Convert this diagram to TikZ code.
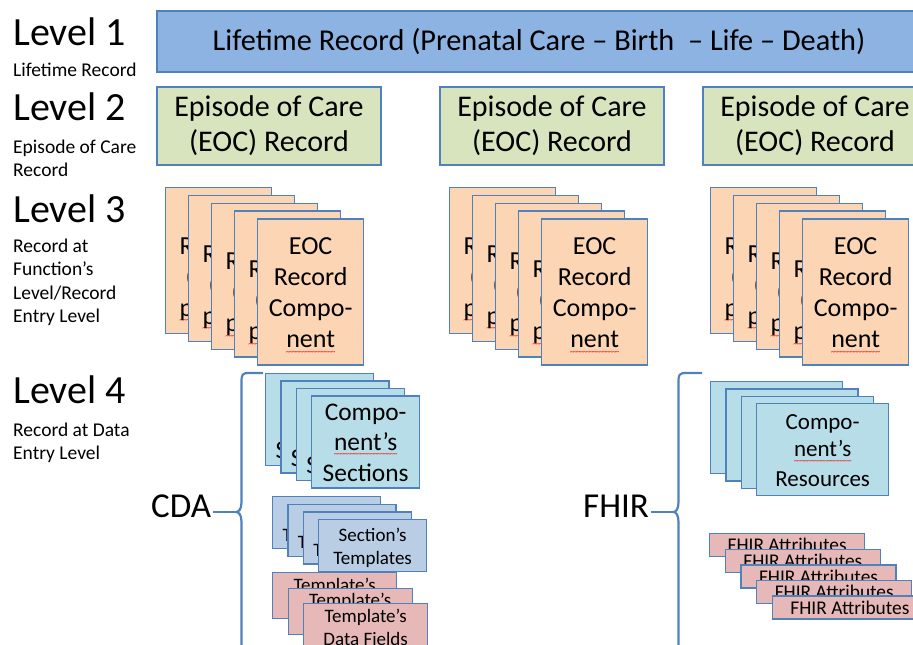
\documentclass[tikz,border=0pt]{standalone}
\usepackage{fontspec}
\setmainfont{Carlito}
\usepackage{tikz}
\usetikzlibrary{positioning}

\definecolor{edgeblue}{RGB}{79,129,189}
\definecolor{lifeblue}{RGB}{141,179,226}
\definecolor{eocgreen}{RGB}{215,228,189}
\definecolor{recorange}{RGB}{252,213,181}
\definecolor{secaqua}{RGB}{183,222,232}
\definecolor{tplblue}{RGB}{185,205,229}
\definecolor{fldred}{RGB}{230,185,184}

\newsavebox{\squigbox}
\newcommand{\lstrut}{\rule[-.2\baselineskip]{0pt}{\baselineskip}}
% red spell-check wave under a word
\newcommand{\squig}[1]{\leavevmode\sbox{\squigbox}{#1}\rlap{\textcolor{red}{\raisebox{-6.5pt}{\hbox to \wd\squigbox{\fontsize{8}{8}\selectfont\xleaders\hbox{\kern-.4pt\char"7E\kern-.4pt}\hfil}}}}\usebox{\squigbox}}
% visible bits of the covered cards
\newcommand{\recfrag}{\lstrut\\\lstrut R\\\lstrut\hspace{6pt}(\\\lstrut\squig{p}}
\newcommand{\secfrag}{\lstrut\\\lstrut\\\lstrut S}
\newcommand{\tplfrag}{\lstrut\\\lstrut T}

\begin{document}
\begin{tikzpicture}[x=1pt, y=-1pt,
	box/.style={draw=edgeblue, line width=1.3pt, inner sep=0pt, align=center},
	lvl/.style={anchor=base west, inner sep=0pt, font=\fontsize{40}{48}\selectfont},
	sub/.style={anchor=north west, inner sep=0pt, align=left, font=\fontsize{19.5}{23.5}\selectfont},
	eoc/.style={box, fill=eocgreen, minimum width=224pt, minimum height=78pt, font=\fontsize{30}{35}\selectfont},
	reccard/.style={box, anchor=north west, fill=recorange, minimum width=106pt, minimum height=146pt, font=\fontsize{26}{31}\selectfont},
	recback/.style={reccard, align=left, inner xsep=14pt, text width=78pt},
	seccard/.style={box, anchor=north west, fill=secaqua, minimum width=108pt, minimum height=92pt, font=\fontsize{25.4}{30}\selectfont},
	secback/.style={seccard, align=left, inner xsep=10pt, text width=88pt},
	tplcard/.style={box, anchor=north west, fill=tplblue, minimum width=108pt, minimum height=52pt, font=\fontsize{19}{23}\selectfont},
	tplback/.style={tplcard, align=left, inner xsep=10pt, text width=88pt},
	fldcard/.style={box, anchor=north west, fill=fldred, minimum width=124pt, minimum height=46pt, font=\fontsize{19}{23}\selectfont},
	rescard/.style={box, anchor=north west, fill=secaqua, minimum width=132pt, minimum height=92pt, font=\fontsize{23}{27.5}\selectfont},
	attcard/.style={box, anchor=north west, fill=fldred, minimum width=155pt, minimum height=23pt, font=\fontsize{19.4}{23}\selectfont},
	std/.style={anchor=base west, inner sep=2pt, font=\fontsize{35}{42}\selectfont},
	brace/.style={draw=edgeblue, line width=2.2pt}]
	\useasboundingbox (0,0) rectangle (913,645);
	\clip (0,0) rectangle (913,645);

	% level names on the left
	\node(lv1) [lvl] at (13,45) {Level 1};
	\node(lv1sub) [sub] at (13,57.2) {\lstrut Lifetime Record};
	\node(lv2) [lvl] at (13,120) {Level 2};
	\node(lv2sub) [sub] at (13,134.2) {\lstrut Episode of Care\\\lstrut Record};
	\node(lv3) [lvl] at (13,222) {Level 3};
	\node(lv3sub) [sub] at (13,233.2) {\lstrut Record at\\\lstrut Function’s\\\lstrut Level/Record\\\lstrut Entry Level};
	\node(lv4) [lvl] at (13,403) {Level 4};
	\node(lv4sub) [sub] at (13,417.2) {\lstrut Record at Data\\\lstrut Entry Level};

	% level 1 and 2
	\node(life) [box, fill=lifeblue, minimum width=764pt, minimum height=61pt, font=\fontsize{30.3}{36}\selectfont] at (539,41.5) {Lifetime Record (Prenatal Care – Birth\ \ – Life – Death)};
	\node(eocA) [eoc] at (269,126) {Episode of Care\\(EOC) Record};
	\node(eocB) [eoc] at (552,126) {Episode of Care\\(EOC) Record};
	\node(eocC) [eoc] at (815,126) {Episode of Care\\(EOC) Record};

	% level 3 stacks
	\node(rA1) [recback] at (165,187) {\recfrag};
	\node(rA2) [recback] at (188,194.8) {\recfrag};
	\node(rA3) [recback] at (211,202.6) {\recfrag};
	\node(rA4) [recback] at (234,210.4) {\recfrag};
	\node(rA5) [reccard] at (257,218.2) {\lstrut EOC\\\lstrut Record\\\lstrut Compo-\\\lstrut\squig{nent}};

	\node(rB1) [recback] at (449,187) {\recfrag};
	\node(rB2) [recback] at (472,194.8) {\recfrag};
	\node(rB3) [recback] at (495,202.6) {\recfrag};
	\node(rB4) [recback] at (518,210.4) {\recfrag};
	\node(rB5) [reccard] at (541,218.2) {\lstrut EOC\\\lstrut Record\\\lstrut Compo-\\\lstrut\squig{nent}};

	\node(rC1) [recback] at (710,187) {\recfrag};
	\node(rC2) [recback] at (733,194.8) {\recfrag};
	\node(rC3) [recback] at (756,202.6) {\recfrag};
	\node(rC4) [recback] at (779,210.4) {\recfrag};
	\node(rC5) [reccard] at (802,218.2) {\lstrut EOC\\\lstrut Record\\\lstrut Compo-\\\lstrut\squig{nent}};

	% level 4, CDA side
	\node(sec1) [secback] at (265,373) {\secfrag};
	\node(sec2) [secback] at (280.3,380.4) {\secfrag};
	\node(sec3) [secback] at (295.6,387.8) {\secfrag};
	\node(sec4) [seccard] at (311,395.2) {\lstrut Compo-\\\lstrut\squig{nent’s}\\\lstrut Sections};

	\node(tpl1) [tplback] at (272,496) {\tplfrag};
	\node(tpl2) [tplback] at (287.3,503.7) {\tplfrag};
	\node(tpl3) [tplback] at (302.6,511.4) {\tplfrag};
	\node(tpl4) [tplcard] at (318,519) {\lstrut Section’s\\\lstrut Templates};

	\node(fld1) [fldcard] at (272,572) {\lstrut Template’s\\\lstrut};
	\node(fld2) [fldcard] at (287.5,587.5) {\lstrut Template’s\\\lstrut};
	\node(fld3) [fldcard] at (303,603) {\lstrut Template’s\\\lstrut Data Fields};

	% level 4, FHIR side
	\node(res1) [rescard] at (710,381) {};
	\node(res2) [rescard] at (725.3,388.3) {};
	\node(res3) [rescard] at (740.6,395.6) {};
	\node(res4) [rescard] at (756,403) {\lstrut Compo-\\\lstrut\squig{nent’s}\\\lstrut Resources};

	\node(att1) [attcard] at (709,533) {FHIR Attributes};
	\node(att2) [attcard] at (724.7,548.6) {FHIR Attributes};
	\node(att3) [attcard] at (740.4,564.2) {FHIR Attributes};
	\node(att4) [attcard] at (756.1,579.8) {FHIR Attributes};
	\node(att5) [attcard] at (771.8,595.4) {FHIR Attributes};

	% braces
	\node(cda) [std] at (149,517) {CDA};
	\node(fhir) [std] at (581,517) {FHIR};
	\coordinate(cdatip) at (236,512);
	\coordinate(fhirtip) at (673.5,512);
	\draw[brace] (263,373) -- (249,373) .. controls (242,373) and (241.5,375) .. (241.5,382) -- (241.5,502)
		.. controls (241.5,509) and (239,512) .. (cdatip) .. controls (239,512) and (241.5,515) .. (241.5,522)
		-- (241.5,642) .. controls (241.5,649) and (242,651) .. (249,651) -- (263,651);
	\draw[brace] (702,373) -- (686,373) .. controls (679,373) and (678.5,375) .. (678.5,382) -- (678.5,502)
		.. controls (678.5,509) and (676,512) .. (fhirtip) .. controls (676,512) and (678.5,515) .. (678.5,522)
		-- (678.5,642) .. controls (678.5,649) and (679,651) .. (686,651) -- (702,651);
	\draw[brace] (cda.east |- cdatip) -- (cdatip);
	\draw[brace] (fhir.east |- fhirtip) -- (fhirtip);
\end{tikzpicture}
\end{document}
